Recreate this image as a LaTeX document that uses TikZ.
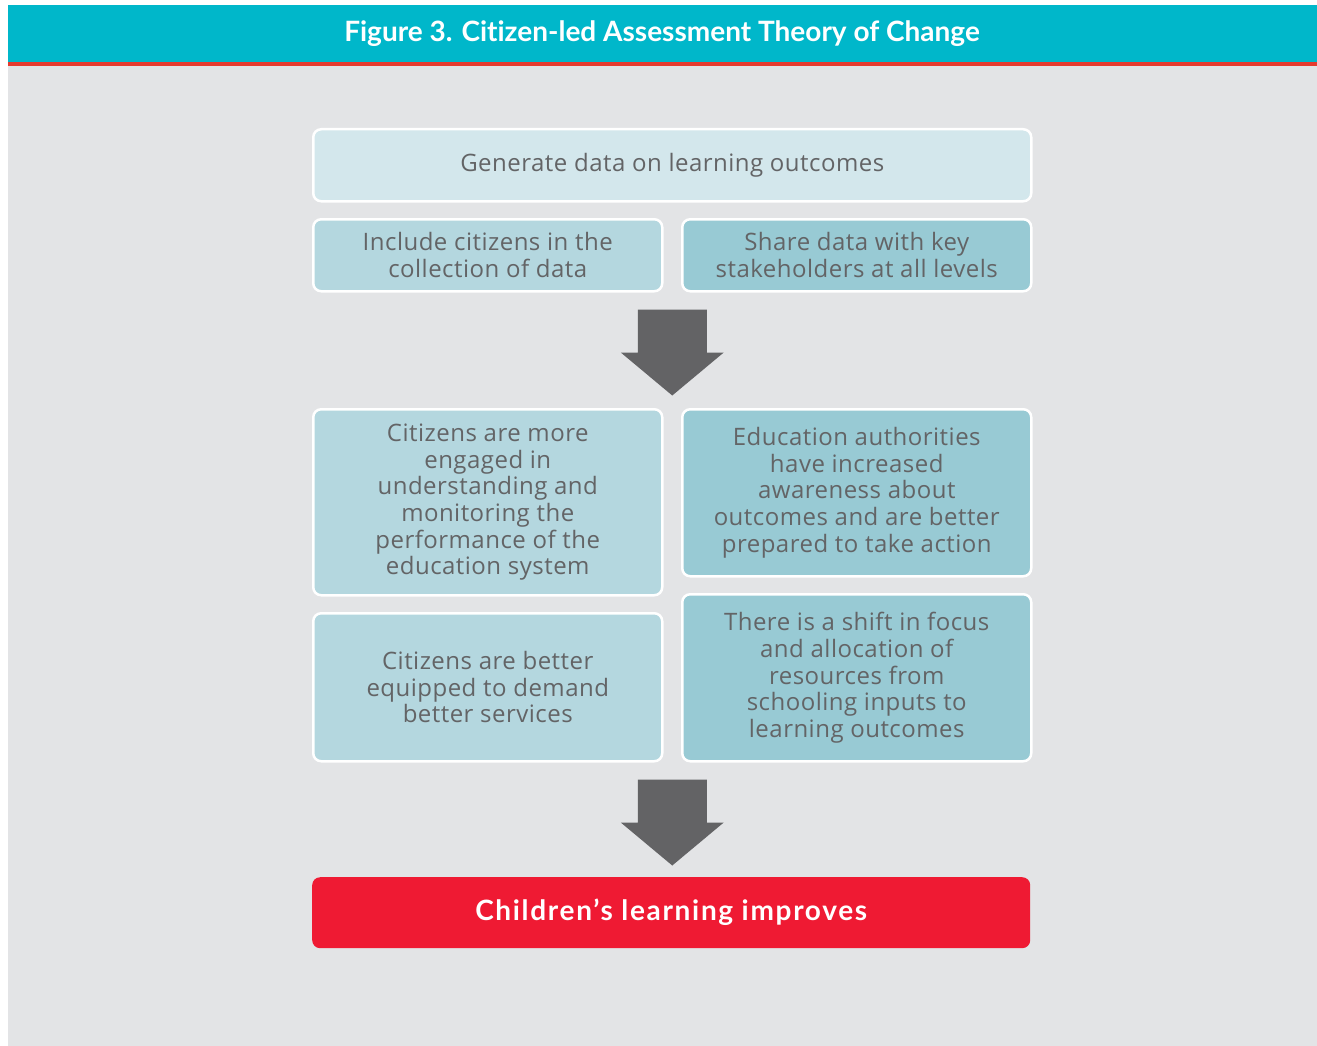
\documentclass[tikz,border=0pt]{standalone}
\usepackage{fontspec}
\setmainfont{Lato}[Ligatures=NoCommon]
\newfontfamily\bodyfont{Open Sans}[LetterSpace=2]
\newfontfamily\redfont{Lato}[LetterSpace=6,Ligatures=NoCommon]
\usetikzlibrary{calc}
\definecolor{headteal}{HTML}{00B7CA}
\definecolor{headred}{HTML}{E63A2E}
\definecolor{bggray}{HTML}{E3E4E6}
\definecolor{boxpale}{HTML}{D3E7EC}
\definecolor{boxlight}{HTML}{B4D7DF}
\definecolor{boxdark}{HTML}{98CAD4}
\definecolor{txtgray}{HTML}{636466}
\definecolor{arrowgray}{HTML}{636365}
\definecolor{boxred}{HTML}{EF1A33}
\begin{document}
\begin{tikzpicture}[x=1pt,y=-1pt,
  box/.style={draw=white, line width=2.5pt, rounded corners=8pt, inner sep=0pt,
    align=center, text=txtgray, font=\bodyfont\fontsize{24}{26.7}\selectfont,
    anchor=north west, minimum width=718pt},
  halfbox/.style={box, minimum width=349pt},
  titletext/.style={text=white, font=\fontsize{28}{32}\selectfont\bfseries, inner sep=0pt},
  redbox/.style={fill=boxred, rounded corners=8pt, inner sep=0pt, anchor=north west,
    minimum width=718pt, minimum height=71pt, text=white,
    font=\redfont\fontsize{28}{32}\selectfont\bfseries},
  downarrow/.pic={\fill[arrowgray] (-34.5,0) -- (34.5,0) -- (34.5,43) -- (51.5,43)
     -- (0,86) -- (-51.5,43) -- (-34.5,43) -- cycle;}
]
\useasboundingbox (0,0) rectangle (1317,1046);
\fill[white] (0,0) rectangle (1317,1046);
\fill[bggray] (8,66) rectangle (1317,1046);
\fill[headteal] (8,5) rectangle (1317,62);
\fill[headred] (8,62) rectangle (1317,66);
\node[titletext] (title) at (662,34) {Figure 3. Citizen-led Assessment Theory of Change};

\node[box, fill=boxpale, minimum height=72pt] (gen) at (312,128) {Generate data on learning outcomes};
\node[halfbox, fill=boxlight, minimum height=72pt] (inc) at (312,218) {Include citizens in the\\collection of data};
\node[halfbox, fill=boxdark, minimum height=72pt] (share) at (681,218) {Share data with key\\stakeholders at all levels};

\path (inc.south east) -- (share.south west) coordinate[midway] (m1);
\pic at ($(m1)+(0,17)$) {downarrow};

\node[halfbox, fill=boxlight, minimum height=186pt] (eng) at (312,408) {Citizens are more\\engaged in\\understanding and\\monitoring the\\performance of the\\education system};
\node[halfbox, fill=boxdark, minimum height=167pt] (auth) at (681,408) {Education authorities\\have increased\\awareness about\\outcomes and are better\\prepared to take action};
\node[halfbox, fill=boxlight, minimum height=148pt] (equip) at (312,612) {Citizens are better\\equipped to demand\\better services};
\node[halfbox, fill=boxdark, minimum height=167pt] (shift) at (681,593) {There is a shift in focus\\and allocation of\\resources from\\schooling inputs to\\learning outcomes};

\path (equip.south east) -- (shift.south west) coordinate[midway] (m2);
\pic at ($(m2)+(0,17)$) {downarrow};

\node[redbox] (learn) at (312,877) {Children’s learning improves};
\end{tikzpicture}
\end{document}
